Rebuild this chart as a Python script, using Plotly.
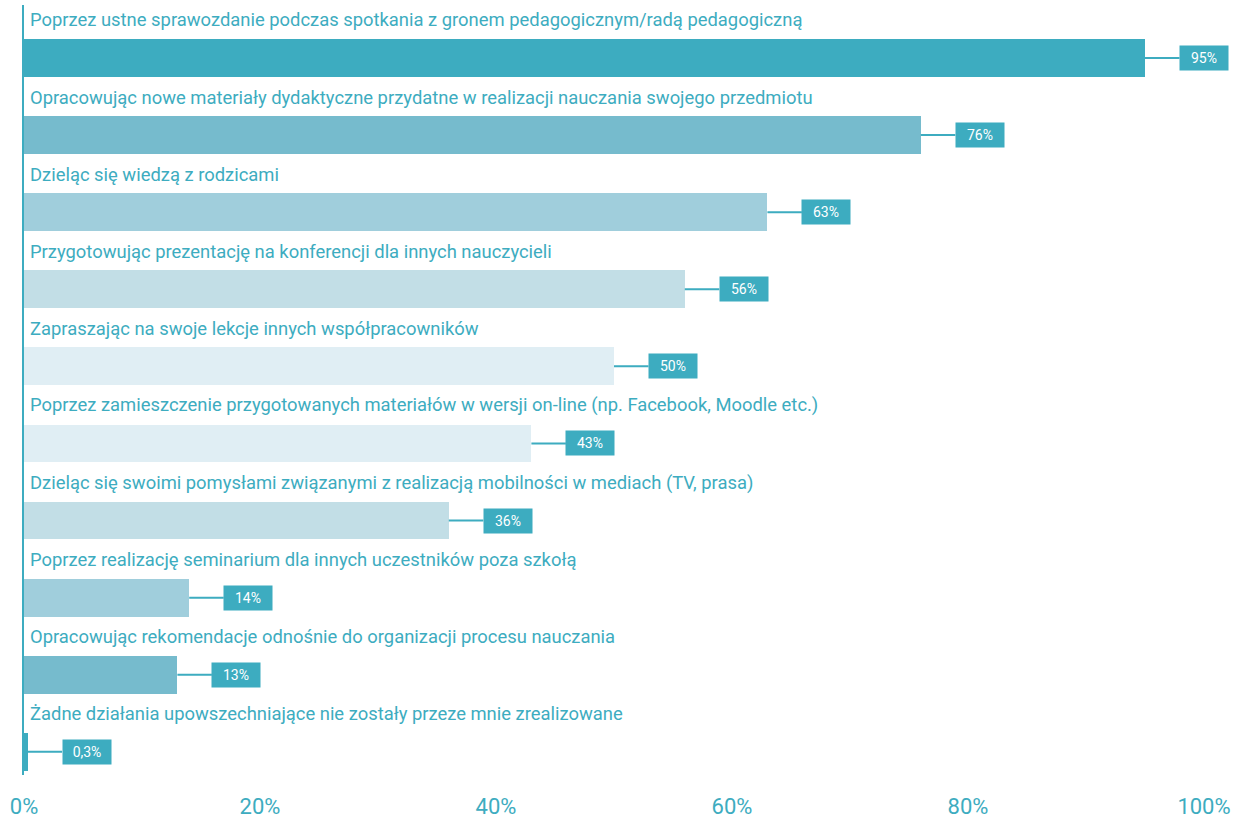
import plotly.graph_objects as go

categories = [
    "Poprzez ustne sprawozdanie podczas spotkania z gronem pedagogicznym/radą pedagogiczną",
    "Opracowując nowe materiały dydaktyczne przydatne w realizacji nauczania swojego przedmiotu",
    "Dzieląc się wiedzą z rodzicami",
    "Przygotowując prezentację na konferencji dla innych nauczycieli",
    "Zapraszając na swoje lekcje innych współpracowników",
    "Poprzez zamieszczenie przygotowanych materiałów w wersji on-line (np. Facebook, Moodle etc.)",
    "Dzieląc się swoimi pomysłami związanymi z realizacją mobilności w mediach (TV, prasa)",
    "Poprzez realizację seminarium dla innych uczestników poza szkołą",
    "Opracowując rekomendacje odnośnie do organizacji procesu nauczania",
    "Żadne działania upowszechniające nie zostały przeze mnie zrealizowane",
]
values = [95, 76, 63, 56, 50, 43, 36, 14, 13, 0.3]
value_labels = ["95%", "76%", "63%", "56%", "50%", "43%", "36%", "14%", "13%", "0,3%"]
bar_colors = ["#3DACC0", "#76BBCD", "#A0CEDC", "#C2DEE6", "#E0EEF4",
              "#E0EEF4", "#C2DEE6", "#A0CEDC", "#76BBCD", "#3DACC0"]
tick_vals = [0, 20, 40, 60, 80, 100]
tick_text = ["0%", "20%", "40%", "60%", "80%", "100%"]

TEAL = "#3DACC0"
FONT = "Roboto"
pos = list(range(len(categories)))

fig = go.Figure()
fig.add_trace(go.Bar(
    x=values, y=pos, orientation="h",
    marker=dict(color=bar_colors, line=dict(width=0)),
    width=0.49, hoverinfo="skip",
))

annotations = []
for i, (cat, v, lab) in enumerate(zip(categories, values, value_labels)):
    annotations.append(dict(
        x=0, y=i, xref="x", yref="y", text=cat, showarrow=False,
        xanchor="left", yanchor="middle", xshift=4, yshift=38,
        font=dict(family=FONT, size=18.4, color=TEAL),
    ))
    annotations.append(dict(
        x=v, y=i, xref="x", yref="y", text=lab, showarrow=True,
        arrowhead=0, arrowwidth=2, arrowcolor=TEAL, ax=59, ay=0,
        standoff=0, startstandoff=0,
        bgcolor=TEAL, width=44, height=20, borderpad=2,
        font=dict(family=FONT, size=14, color="white"),
    ))

fig.update_layout(
    width=1236, height=823,
    margin=dict(l=24, r=32, t=5, b=48, autoexpand=False),
    plot_bgcolor="white", paper_bgcolor="white",
    showlegend=False, bargap=0,
    annotations=annotations,
    xaxis=dict(range=[0, 100], tickvals=tick_vals, ticktext=tick_text,
               showgrid=False, zeroline=False, showline=False,
               ticks="", ticklabelstandoff=16, automargin=False,
               tickfont=dict(family=FONT, size=22, color=TEAL)),
    yaxis=dict(range=[9.30, -0.687], showticklabels=False, showgrid=False,
               zeroline=False, showline=True, linecolor=TEAL, linewidth=1.5,
               ticks="", automargin=False),
)

fig.write_html("out.html",
               config={"displayModeBar": False},
               post_script="document.body.style.margin='0';document.body.style.overflow='hidden';")
